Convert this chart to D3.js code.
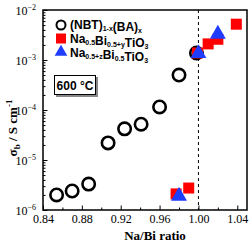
<!DOCTYPE html>
<html>
<head>
<meta charset="utf-8">
<script src="https://cdn.jsdelivr.net/npm/d3@7"></script>
<style>
  body { margin: 0; background: #fff; }
  svg { display: block; }
  .tick text { font-family: "Liberation Serif", "Times New Roman", serif; }
</style>
</head>
<body>
<div id="chart"></div>
<script>
// data
var nbtX = [0.854, 0.870, 0.887, 0.907, 0.924, 0.941, 0.960, 0.980, 0.998];
var nbtY = [2.0e-6, 2.4e-6, 3.3e-6, 2.2e-5, 4.2e-5, 5.2e-5, 1.15e-4, 5.0e-4, 1.38e-3];

var biX = [0.977, 0.990, 0.999, 1.010, 1.020, 1.039];
var biY = [2.1e-6, 2.75e-6, 1.38e-3, 2.1e-3, 2.6e-3, 5.2e-3];

var naX = [0.980, 1.000, 1.020];
var naY = [1.9e-6, 1.35e-3, 3.3e-3];

var xTicks = [0.84, 0.88, 0.92, 0.96, 1.00, 1.04];
var yExps = [-6, -5, -4, -3, -2];

var svgWidth = 250, svgHeight = 243;
var margin = {left: 43, right: 3, top: 10, bottom: 33};
var width = svgWidth - margin.left - margin.right,
    height = svgHeight - margin.top - margin.bottom;

var svg = d3.select("#chart").append("svg")
    .attr("width", svgWidth)
    .attr("height", svgHeight);

var x = d3.scaleLinear().domain([0.84, 1.05]).range([0, width]);
var y = d3.scaleLog().domain([1e-6, 1e-2]).range([height, 0]);

var g = svg.append("g")
    .attr("transform", "translate(" + margin.left + "," + margin.top + ")");

// x axis, ticks pointing inward
var xMinor = d3.range(0.86, 1.05, 0.04);
g.append("g")
    .attr("transform", "translate(0," + height + ")")
    .call(d3.axisBottom(x).tickValues(xMinor).tickSize(-2.5).tickFormat(""))
    .call(function(a) { a.select(".domain").remove(); });
var xAxis = g.append("g")
    .attr("transform", "translate(0," + height + ")")
    .call(d3.axisBottom(x).tickValues(xTicks).tickSize(-4.5).tickPadding(4)
        .tickFormat(d3.format(".2f")));
xAxis.select(".domain").remove();
xAxis.selectAll(".tick text").attr("font-size", 12).attr("fill", "#000");
xAxis.selectAll(".tick line").attr("stroke-width", 1);

// y axis minor ticks 2..9 for each decade
var yMinor = [];
yExps.slice(0, -1).forEach(function(e) {
    for (var k = 2; k <= 9; k++) yMinor.push(k * Math.pow(10, e));
});
g.append("g")
    .call(d3.axisLeft(y).tickValues(yMinor).tickSize(-2.5).tickFormat(""))
    .call(function(a) { a.select(".domain").remove(); });
var yAxis = g.append("g")
    .call(d3.axisLeft(y).tickValues(yExps.map(function(e) { return Math.pow(10, e); }))
        .tickSize(-4.5).tickFormat(""));
yAxis.select(".domain").remove();

// y tick labels with superscript exponents
yExps.forEach(function(e) {
    var t = g.append("text")
        .attr("x", -7)
        .attr("y", y(Math.pow(10, e)) + 5)
        .attr("text-anchor", "end")
        .attr("font-family", "Liberation Serif, serif")
        .attr("font-size", 12);
    t.append("tspan").text("10");
    t.append("tspan").attr("dy", -5).attr("font-size", 8).text("\u2212" + Math.abs(e));
});

// frame
g.append("rect")
    .attr("width", width).attr("height", height)
    .attr("fill", "none").attr("stroke", "#000").attr("stroke-width", 1.5);

// dashed line at Na/Bi = 1
g.append("line")
    .attr("x1", x(1.0)).attr("x2", x(1.0))
    .attr("y1", 0).attr("y2", height)
    .attr("stroke", "#000").attr("stroke-width", 1)
    .attr("stroke-dasharray", "3,3");

var tri = d3.symbol().type(d3.symbolTriangle).size(110);

// circles
g.selectAll(".nbt")
    .data(d3.zip(nbtX, nbtY))
    .enter().append("circle")
    .attr("class", "nbt")
    .attr("cx", function(d) { return x(d[0]); })
    .attr("cy", function(d) { return y(d[1]); })
    .attr("r", 6.2)
    .attr("fill", "none")
    .attr("stroke", "#000")
    .attr("stroke-width", 2.6);

// red squares
g.selectAll(".bi")
    .data(d3.zip(biX, biY))
    .enter().append("rect")
    .attr("class", "bi")
    .attr("x", function(d) { return x(d[0]) - 5.5; })
    .attr("y", function(d) { return y(d[1]) - 5.5; })
    .attr("width", 11).attr("height", 11)
    .attr("fill", "#ff0000");

// blue triangles
g.selectAll(".na")
    .data(d3.zip(naX, naY))
    .enter().append("path")
    .attr("class", "na")
    .attr("d", tri)
    .attr("transform", function(d) { return "translate(" + x(d[0]) + "," + y(d[1]) + ")"; })
    .attr("fill", "#1f3dff");

// legend
var legend = svg.append("g").attr("font-family", "Liberation Sans, Arial, sans-serif")
    .attr("font-weight", "bold").attr("font-size", 12);

legend.append("circle").attr("cx", 61).attr("cy", 25).attr("r", 4.5)
    .attr("fill", "none").attr("stroke", "#000").attr("stroke-width", 2);
legend.append("rect").attr("x", 56).attr("y", 33.5).attr("width", 10).attr("height", 10)
    .attr("fill", "#ff0000");
legend.append("path").attr("d", d3.symbol().type(d3.symbolTriangle).size(70))
    .attr("transform", "translate(61,52)").attr("fill", "#1f3dff");

function legendText(yPos, parts) {
    var t = legend.append("text").attr("x", 70).attr("y", yPos);
    parts.forEach(function(p) {
        if (p[1]) {
            t.append("tspan").attr("font-size", 7).attr("dy", 2).text(p[0]);
        } else {
            t.append("tspan").attr("font-size", 12).attr("dy", t.node().childNodes.length && t.node().lastChild.getAttribute("font-size") == 7 ? -2 : 0).text(p[0]);
        }
    });
}
legendText(29, [["(NBT)"], ["1-x", 1], ["(BA)"], ["x", 1]]);
legendText(43, [["Na"], ["0.5", 1], ["Bi"], ["0.5+y", 1], ["TiO"], ["3", 1]]);
legendText(57, [["Na"], ["0.5+z", 1], ["Bi"], ["0.5", 1], ["TiO"], ["3", 1]]);

// temperature box with shadow
svg.append("rect").attr("x", 56).attr("y", 77).attr("width", 42).attr("height", 20).attr("fill", "#888");
svg.append("rect").attr("x", 54.5).attr("y", 75.5).attr("width", 41).attr("height", 19)
    .attr("fill", "#fff").attr("stroke", "#000").attr("stroke-width", 1);
svg.append("text").attr("x", 75).attr("y", 90).attr("text-anchor", "middle")
    .attr("font-family", "Liberation Sans, Arial, sans-serif").attr("font-weight", "bold")
    .attr("font-size", 12).text("600 \u00b0C");

// axis titles
svg.append("text")
    .attr("x", 155).attr("y", 240)
    .attr("text-anchor", "middle")
    .attr("font-family", "Liberation Serif, serif").attr("font-weight", "bold")
    .attr("font-size", 13).text("Na/Bi ratio");

var yl = svg.append("text")
    .attr("transform", "translate(17,128) rotate(-90)")
    .attr("text-anchor", "middle")
    .attr("font-family", "Liberation Serif, serif").attr("font-weight", "bold")
    .attr("font-size", 13);
yl.append("tspan").text("\u03c3");
yl.append("tspan").attr("font-size", 9).attr("dy", 3).text("b");
yl.append("tspan").attr("dy", -3).text(" / S cm");
yl.append("tspan").attr("font-size", 9).attr("dy", -5).text("-1");
</script>
</body>
</html>
